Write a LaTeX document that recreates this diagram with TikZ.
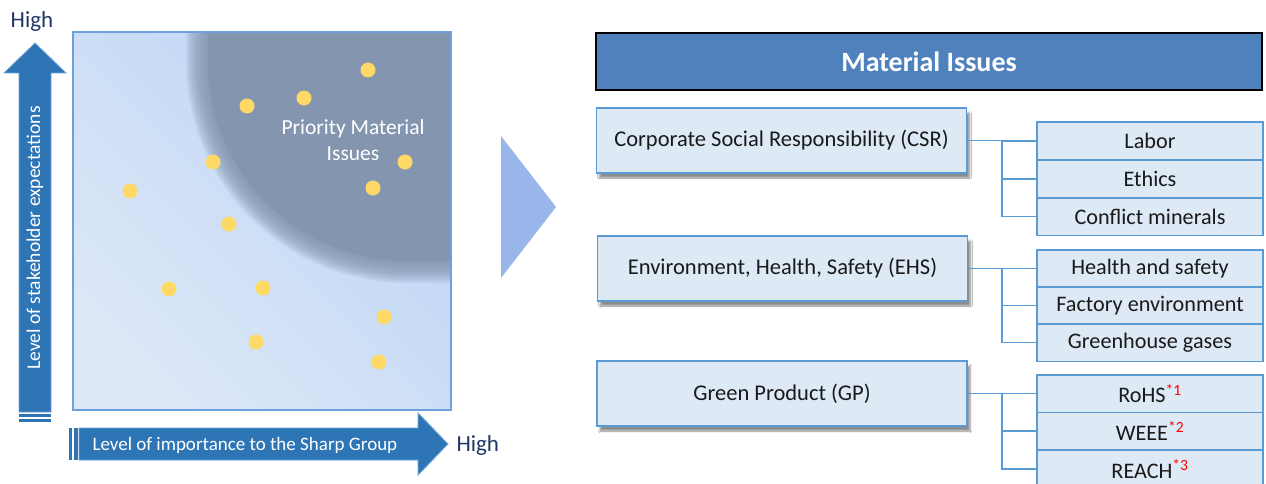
\documentclass[tikz,border=0pt]{standalone}
\usepackage{fontspec}
\setmainfont{Carlito}
\usetikzlibrary{shadows.blur}
\definecolor{arrowblue}{HTML}{2E75B6}
\definecolor{arrowedge}{HTML}{6FA3DC}
\definecolor{sqedge}{HTML}{6FA0DC}
\definecolor{gradlo}{HTML}{DCE7F7}
\definecolor{gradhi}{HTML}{BDD5F5}
\definecolor{darkreg}{HTML}{8496AF}
\definecolor{dotyellow}{HTML}{FFD966}
\definecolor{hightext}{HTML}{203864}
\definecolor{triblue}{HTML}{99B6EA}
\definecolor{titleblue}{HTML}{4F81BD}
\definecolor{boxfill}{HTML}{DEE9F6}
\definecolor{boxedge}{HTML}{5B9BD5}
\definecolor{txt}{HTML}{1A1A1A}
\tikzset{
  dotmark/.style={circle, fill=dotyellow, minimum size=15pt, inner sep=0pt},
  catbox/.style={draw=boxedge, line width=1.5pt, fill=boxfill, minimum width=370pt, minimum height=65pt, inner sep=0pt, font=\fontsize{22.5}{26}\selectfont, text=txt,
    blur shadow={shadow xshift=3pt, shadow yshift=-5pt, shadow blur steps=6, shadow opacity=45}},
  subbox/.style={draw=boxedge, line width=1.5pt, fill=boxfill, minimum width=226pt, minimum height=37.5pt, inner sep=0pt, font=\fontsize{22.2}{26}\selectfont, text=txt},
  conn/.style={draw=boxedge, line width=1.2pt},
  arrowbody/.style={fill=arrowblue, draw=arrowedge, line width=0.8pt}
}
\newcommand{\redsup}[1]{\textsuperscript{\color{red}#1}}
\begin{document}
\begin{tikzpicture}[x=1pt, y=-1pt]
\useasboundingbox (0,0) rectangle (1266,484);
\fill[white] (0,0) rectangle (1266,484);

% matrix square
\begin{scope}
\clip (73,32) rectangle (451,410);
\shade[top color=gradhi, bottom color=gradlo, shading angle=-45] (73,32) rectangle (451,410);
\foreach \d in {11,9.5,...,-10} {
  \pgfmathsetmacro\rr{210+\d}
  \fill[darkreg, opacity=0.12, rounded corners=\rr pt] ({197-\d},-300) rectangle (700,{272+\d});
}
\fill[darkreg, rounded corners=199pt] (208,-300) rectangle (700,261);
\end{scope}
\draw[sqedge, line width=1.2pt] (73,32) rectangle (451,410);

% dots
\foreach \p [count=\i] in {(368,70),(304,98),(247,106),(213,162),(130,191),(405,162),(373,188),(229,224),(169,289),(263,288),(384,317),(256,342),(379,362)}
  \node[dotmark] (d\i) at \p {};

\node[text=white, align=center, font=\fontsize{21.5}{26}\selectfont] (prio) at (353,140) {Priority Material\\Issues};

% vertical arrow
\draw[arrowbody] (19,412) -- (19,73) -- (4,73) -- (35,43) -- (66,73) -- (51,73) -- (51,412) -- cycle;
\fill[arrowblue] (19,413.5) rectangle (51,417);
\fill[arrowblue] (19,418.5) rectangle (51,421.5);
\node[rotate=90, text=white, font=\fontsize{19.5}{22}\selectfont] (ylab) at (35,238) {Level of stakeholder expectations};
\node[text=hightext, font=\fontsize{23}{26}\selectfont] (yhigh) at (32,21) {High};

% horizontal arrow
\draw[arrowbody] (79,428) -- (418,428) -- (418,413) -- (448,444) -- (418,475) -- (418,460) -- (79,460) -- cycle;
\fill[arrowblue] (69,428) rectangle (72,460);
\fill[arrowblue] (73.5,428) rectangle (77.5,460);
\node[text=white, anchor=west, font=\fontsize{19}{22}\selectfont] (xlab) at (89,445) {Level of importance to the Sharp Group};
\node[text=hightext, anchor=west, font=\fontsize{23}{26}\selectfont] (xhigh) at (453,445) {High};

% big triangle
\fill[triblue] (501,136) -- (556,207) -- (501,278) -- cycle;

% title
\node[draw=black, line width=2.5pt, fill=titleblue, minimum width=666pt, minimum height=57pt, inner sep=0pt, text=white, font=\fontsize{28}{30}\selectfont\bfseries] (title) at (929,61.5) {Material Issues};

% categories
\node[catbox] (csr) at (781.5,140.5) {Corporate Social Responsibility (CSR)};
\node[catbox] (ehs) at (782.5,268.5) {Environment, Health, Safety (EHS)};
\node[catbox] (gp) at (782,393.5) {Green Product (GP)};

% sub boxes
\node[subbox] (labor) at (1150,141) {Labor};
\node[subbox] (ethics) at (1150,179) {Ethics};
\node[subbox] (conflict) at (1150,216.5) {Conflict minerals};
\node[subbox] (health) at (1150,268.5) {Health and safety};
\node[subbox] (factory) at (1150,305.5) {Factory environment};
\node[subbox] (ghg) at (1150,342.5) {Greenhouse gases};
\node[subbox] (rohs) at (1150,393.5) {RoHS\redsup{*1}};
\node[subbox] (weee) at (1150,431) {WEEE\redsup{*2}};
\node[subbox] (reach) at (1150,469) {REACH\redsup{*3}};

% connectors
\coordinate (j1) at (1002,141);
\coordinate (j2) at (1002,268.5);
\coordinate (j3) at (1002,393.5);
\draw[conn] (csr.east) -- (j1 |- csr.east) |- (labor.west);
\draw[conn] (j1 |- csr.east) |- (ethics.west);
\draw[conn] (j1 |- csr.east) |- (conflict.west);
\draw[conn] (ehs.east) -- (j2 |- ehs.east) |- (health.west);
\draw[conn] (j2 |- ehs.east) |- (factory.west);
\draw[conn] (j2 |- ehs.east) |- (ghg.west);
\draw[conn] (gp.east) -- (j3 |- gp.east) |- (rohs.west);
\draw[conn] (j3 |- gp.east) |- (weee.west);
\draw[conn] (j3 |- gp.east) |- (reach.west);
\end{tikzpicture}
\end{document}
